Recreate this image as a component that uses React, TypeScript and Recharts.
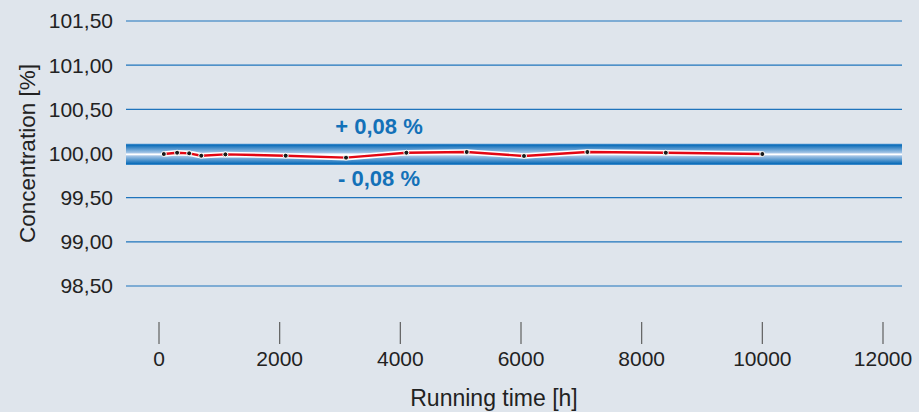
import React from 'react';
import { LineChart, Line, XAxis, YAxis, CartesianGrid, ReferenceArea, ReferenceLine } from 'recharts';

// Betriebsdauer [h] und gemessene Konzentration [%]
const hours = [80, 300, 500, 700, 1100, 2100, 3100, 4100, 5100, 6050, 7100, 8400, 10000];
const concentration = [
  99.994, 100.009, 100.002, 99.975, 99.99, 99.975, 99.953, 100.009, 100.017, 99.972, 100.017, 100.009, 99.994,
];

const xTicks = [0, 2000, 4000, 6000, 8000, 10000, 12000];
const xDomain = [-547, 12315];
const yTicks = [98.5, 99, 99.5, 100, 100.5, 101, 101.5];

// Toleranzband (optisch überhöht dargestellt)
const toleranceLow = 99.87;
const toleranceHigh = 100.11;
const nominal = 99.99;
const bandLabels = ['+ 0,08 %', '- 0,08 %'];

const data = hours.map((h, i) => ({ hours: h, value: concentration[i] }));

const FONT = '"Liberation Sans", Arial, Helvetica, sans-serif';
const TEXT = '#222222';
const BLUE = '#1371b8';

function XTick({ x, y, payload }: any) {
  return (
    <g>
      <line x1={x} x2={x} y1={y + 36} y2={y + 58} stroke="#5f5f5f" strokeWidth={1.2} />
      <text x={x} y={y + 80} textAnchor="middle" fontSize={21} fill={TEXT} fontFamily={FONT}>
        {payload.value}
      </text>
    </g>
  );
}

function YTitle({ viewBox }: any) {
  const cx = viewBox.x + 35;
  const cy = viewBox.y + viewBox.height / 2;
  return (
    <text
      x={cx}
      y={cy}
      transform={`rotate(-90, ${cx}, ${cy})`}
      textAnchor="middle"
      fontSize={22.5}
      fill={TEXT}
      fontFamily={FONT}
    >
      Concentration [%]
    </text>
  );
}

function XTitle({ viewBox }: any) {
  return (
    <text x={viewBox.x + 368} y={viewBox.y + 120} textAnchor="middle" fontSize={23} fill={TEXT} fontFamily={FONT}>
      Running time [h]
    </text>
  );
}

function BandLabel({ viewBox }: any) {
  const cx = viewBox.x + 253;
  return (
    <g fontFamily={FONT} fontWeight="bold" fontSize={22} fill={BLUE} textAnchor="middle">
      <text x={cx} y={viewBox.y - 10}>{bandLabels[0]}</text>
      <text x={cx} y={viewBox.y + viewBox.height + 21.5}>{bandLabels[1]}</text>
    </g>
  );
}

export default function App() {
  return (
    <div style={{ position: 'absolute', left: 0, top: 0, width: 919, height: 412, background: '#dfe5ec' }}>
      <LineChart width={919} height={412} data={data} margin={{ top: 21, right: 17, left: 0, bottom: 0 }}>
        <defs>
          <linearGradient id="toleranceBand" x1="0" y1="0" x2="0" y2="1">
            <stop offset="0%" stopColor="#4a92cf" />
            <stop offset="7%" stopColor="#0f6fba" />
            <stop offset="46%" stopColor="#b3cdea" />
            <stop offset="50%" stopColor="#d6e5f5" />
            <stop offset="54%" stopColor="#b3cdea" />
            <stop offset="93%" stopColor="#0f6fba" />
            <stop offset="100%" stopColor="#4a92cf" />
          </linearGradient>
        </defs>
        <CartesianGrid vertical={false} stroke="#1f74bc" strokeWidth={1.2} />
        <XAxis
          dataKey="hours"
          type="number"
          domain={xDomain}
          allowDataOverflow
          ticks={xTicks}
          axisLine={false}
          tickLine={false}
          tickSize={0}
          tickMargin={0}
          height={126}
          tick={<XTick />}
          label={XTitle}
        />
        <YAxis
          type="number"
          domain={[98.5, 101.5]}
          ticks={yTicks}
          width={126}
          axisLine={false}
          tickLine={false}
          tickSize={0}
          tickMargin={13}
          tickFormatter={(v: number) => v.toFixed(2).replace('.', ',')}
          tick={{ fontSize: 21, fill: TEXT, fontFamily: FONT }}
          label={YTitle}
        />
        <ReferenceArea
          y1={toleranceLow}
          y2={toleranceHigh}
          fill="url(#toleranceBand)"
          fillOpacity={1}
          stroke="none"
          label={BandLabel}
        />
        <ReferenceLine y={nominal} stroke="#ffffff" strokeWidth={1.6} />
        <Line
          dataKey="value"
          stroke="#ffffff"
          strokeWidth={5.5}
          dot={false}
          activeDot={false}
          isAnimationActive={false}
          type="linear"
        />
        <Line
          dataKey="value"
          stroke="#e30613"
          strokeWidth={2.4}
          dot={{ r: 2.5, fill: '#1a1a1a', stroke: '#ffffff', strokeWidth: 1 }}
          activeDot={false}
          isAnimationActive={false}
          type="linear"
        />
      </LineChart>
    </div>
  );
}
